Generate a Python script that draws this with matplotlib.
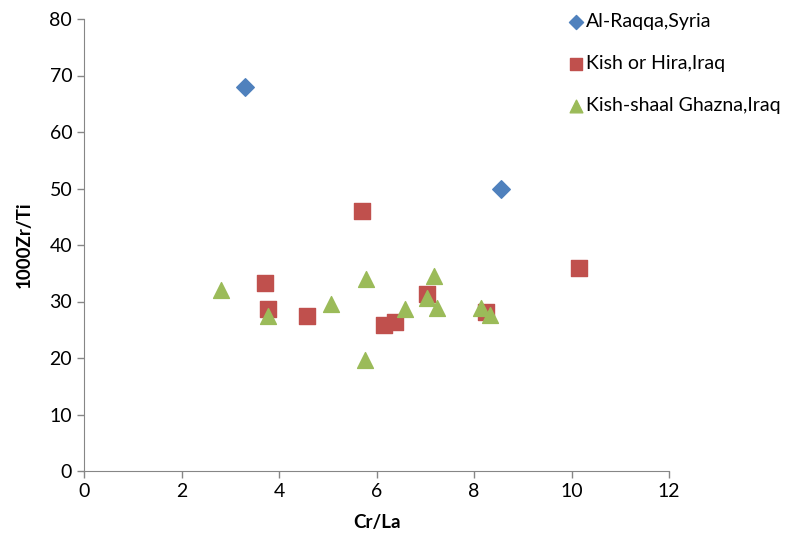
import matplotlib.pyplot as plt

# Al-Raqqa, Syria
raqqa_x = [3.30, 8.55]
raqqa_y = [68.0, 50.0]

# Kish or Hira, Iraq
hira_x = [3.71, 3.77, 4.57, 5.70, 6.15, 6.38, 7.03, 8.24, 10.15]
hira_y = [33.3, 28.7, 27.4, 46.0, 25.9, 26.4, 31.4, 28.2, 36.0]

# Kish-shaal Ghazna, Iraq
ghazna_x = [2.80, 3.77, 5.06, 5.78, 5.76, 6.58, 7.17, 7.03, 7.25, 8.14, 8.33]
ghazna_y = [32.1, 27.5, 29.5, 33.9, 19.7, 28.7, 34.5, 30.6, 28.9, 28.8, 27.6]

plt.rcParams['font.family'] = ['Lato', 'DejaVu Sans']

fig = plt.figure(figsize=(8.11, 5.43), dpi=100)
ax = fig.add_axes([84 / 811, 1 - 471 / 543, (669 - 84) / 811, (471 - 19) / 543])

ax.scatter(raqqa_x, raqqa_y, marker='D', s=80, color='#4F81BD', label='Al-Raqqa,Syria', zorder=3)
ax.scatter(hira_x, hira_y, marker='s', s=125, color='#C0504D', label='Kish or Hira,Iraq', zorder=3)
ax.scatter(ghazna_x, ghazna_y, marker='^', s=130, color='#9BBB59', label='Kish-shaal Ghazna,Iraq', zorder=4)

ax.set_xlim(0, 12)
ax.set_ylim(0, 80)
ax.set_xticks(range(0, 13, 2))
ax.set_yticks(range(0, 81, 10))
ax.tick_params(labelsize=14, color='#868686', length=5, width=1)
for side in ['top', 'right']:
    ax.spines[side].set_visible(False)
for side in ['left', 'bottom']:
    ax.spines[side].set_color('#868686')

ax.set_xlabel('Cr/La', fontsize=13.5, fontweight='bold', labelpad=10)
ax.set_ylabel('1000Zr/Ti', fontsize=13.5, fontweight='bold', labelpad=12)

fig.legend(loc='upper left', bbox_to_anchor=(558 / 811, 1 - 5 / 543), frameon=False,
           fontsize=14, labelspacing=1.3, handletextpad=0.05, handlelength=1.0,
           markerscale=0.8, borderaxespad=0)

fig.savefig('out.png', dpi=100)
